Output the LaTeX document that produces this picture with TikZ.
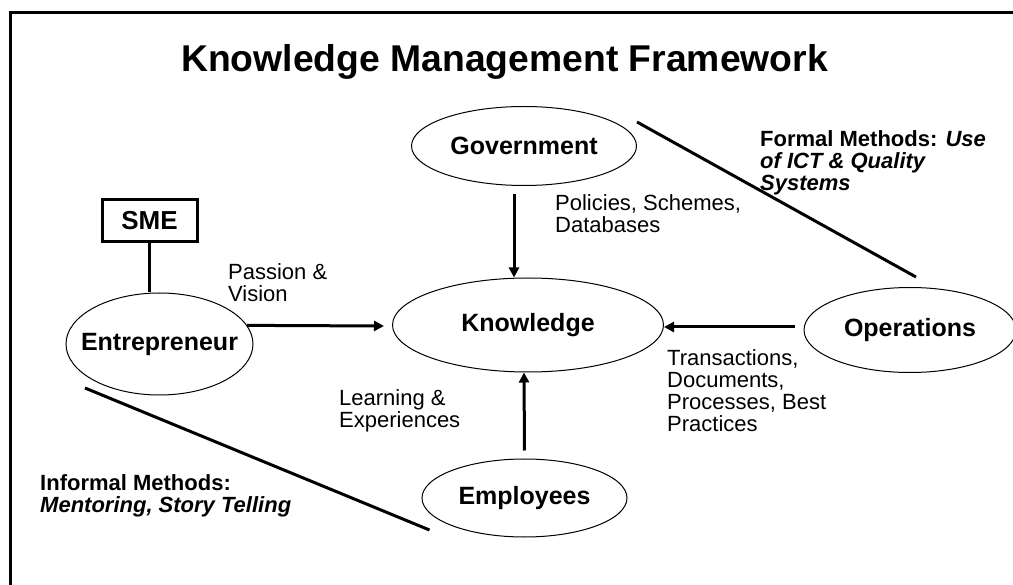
\documentclass[tikz,border=0pt]{standalone}
\usepackage{fontspec}
\setmainfont{Liberation Sans}
\usetikzlibrary{positioning, shapes.geometric, arrows.meta}

\begin{document}
\begin{tikzpicture}[
    x=1pt, y=-1pt,
    oval/.style={draw, ellipse, line width=1pt, inner sep=0pt,
      font=\fontsize{25}{27}\selectfont\bfseries},
    flow/.style={line width=3pt, -{Triangle[length=10pt,width=10pt]}},
    divider/.style={line width=3pt},
    note/.style={anchor=base west, align=left, inner sep=0pt,
      font=\fontsize{22}{22}\selectfont}
  ]
  \useasboundingbox (0,0) rectangle (1013,585);
  \draw[line width=3pt] (10,590) -- (10,13) -- (1020,13);

  \node[anchor=base, font=\fontsize{37.3}{40}\selectfont\bfseries] (title) at (504.5,72)
    {Knowledge Management Framework};

  % actors
  \node[oval, minimum width=225pt, minimum height=79pt] (gov) at (524,146) {Government};
  \node[oval, minimum width=271pt, minimum height=94pt] (know) at (528,325) {Knowledge};
  \node[oval, minimum width=187pt, minimum height=102pt] (entr) at (159.5,344)
    {\makebox[0pt]{Entrepreneur}};
  \node[oval, minimum width=212pt, minimum height=85pt] (oper) at (910,330) {Operations};
  \node[oval, minimum width=205pt, minimum height=78pt] (empl) at (524.5,498) {Employees};
  \node[draw, line width=3pt, minimum width=95pt, minimum height=42pt,
    font=\fontsize{26}{28}\selectfont\bfseries] (sme) at (149.5,221) {SME};

  % flows into knowledge
  \draw[flow] ([xshift=-10pt,yshift=-8pt]gov.south) -- ([xshift=-14pt]know.north);
  \draw[flow] (entr.12) -- ([xshift=-8pt,yshift=-1pt]know.west);
  \draw[flow] ([xshift=-9pt,yshift=3pt]oper.west) -- ([yshift=-2pt]know.east);
  \draw[flow] ([yshift=8pt]empl.north) -- ([xshift=-4pt]know.south);
  \draw[divider] (sme.south) -- (sme.south |- entr.north);

  % formal / informal split
  \coordinate (formA) at ([yshift=24pt]gov.east);
  \coordinate (formB) at ([xshift=6pt,yshift=10pt]oper.north);
  \coordinate (infA) at (85,388);
  \coordinate (infB) at ([xshift=8pt,yshift=-32pt]empl.west);
  \draw[divider] (formA) -- (formB);
  \draw[divider] (infA) -- (infB);

  % labels (base = last line)
  \node[note] (passion) at (228,301.5) {Passion \&\\Vision};
  \node[note] (policies) at (555,232.5) {Policies, Schemes,\\Databases};
  \node[note] (learning) at (339,427.5) {Learning \&\\Experiences};
  \node[note] (trans) at (667,431.5) {Transactions,\\Documents,\\Processes, Best\\Practices};
  \node[note, font=\fontsize{22}{22}\selectfont\bfseries] (formal) at (760,190.5)
    {Formal Methods: \textit{Use}\\\textit{of ICT \& Quality}\\\textit{Systems}};
  \node[note, font=\fontsize{22}{22}\selectfont\bfseries] (informal) at (40,512.5)
    {Informal Methods:\\\textit{Mentoring, Story Telling}};
\end{tikzpicture}
\end{document}
